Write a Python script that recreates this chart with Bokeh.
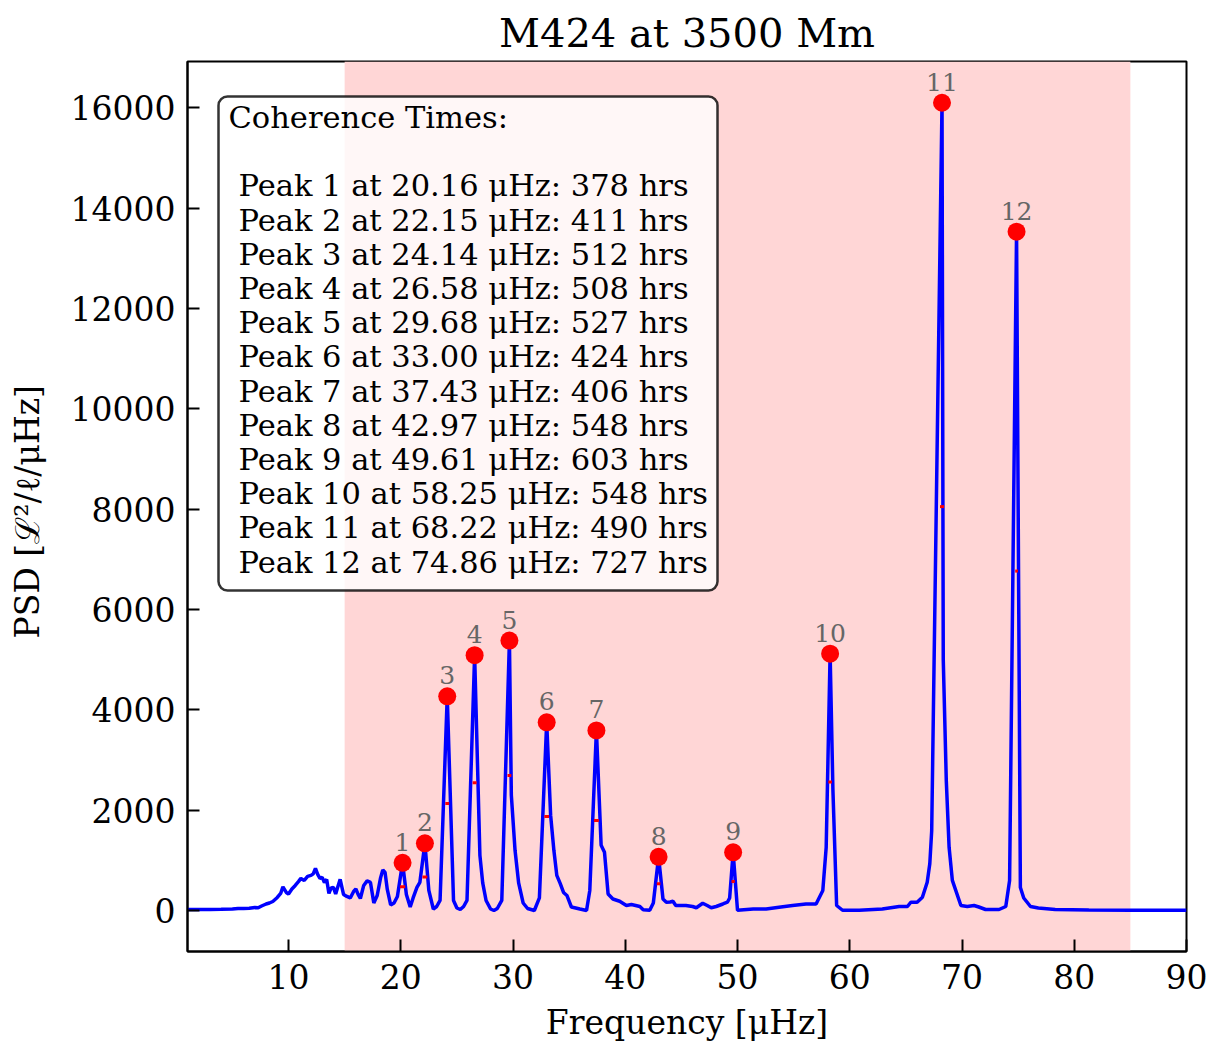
import math

from bokeh.plotting import figure
from bokeh.models import BoxAnnotation, Label, FixedTicker, Range1d, ColumnDataSource
from bokeh.core.properties import value
from bokeh.embed import file_html
from bokeh.resources import INLINE

# ---------------------------------------------------------------- data
# power spectral density of the M424 mode set at 3500 Mm
freq = [
    1.0, 2.0, 3.0, 4.0, 5.0, 5.5, 6.0, 6.5, 7.0, 7.3,
    7.6, 8.0, 8.3, 8.6, 9.0, 9.3, 9.5, 9.8, 10.0, 10.3,
    10.6, 10.9, 11.1, 11.4, 11.7, 12.0, 12.2, 12.4, 12.6, 12.8,
    13.0, 13.2, 13.4, 13.6, 13.8, 14.0, 14.2, 14.4, 14.6, 14.9,
    15.2, 15.5, 15.8, 16.0, 16.2, 16.4, 16.7, 17.0, 17.3, 17.6,
    17.9, 18.2, 18.4, 18.6, 18.8, 19.1, 19.4, 19.7, 20.16, 20.5,
    20.84, 21.1, 21.44, 21.7, 22.15, 22.5, 22.9, 23.2, 23.5, 24.14,
    24.7, 25.0, 25.3, 25.6, 25.9, 26.58, 27.05, 27.3, 27.6, 28.0,
    28.3, 28.6, 29.0, 29.68, 29.85, 30.18, 30.5, 30.9, 31.3, 31.9,
    32.35, 33.0, 33.35, 33.64, 33.9, 34.2, 34.5, 34.8, 35.2, 35.96,
    36.55, 36.84, 37.43, 37.85, 38.15, 38.47, 38.9, 39.5, 40.1, 40.55,
    41.3, 41.6, 42.18, 42.5, 42.97, 43.36, 43.66, 44.0, 44.25, 44.5,
    45.4, 46.0, 46.33, 46.9, 47.3, 47.66, 48.1, 48.7, 49.1, 49.3,
    49.61, 50.0, 51.4, 52.55, 53.7, 54.9, 56.1, 57.0, 57.6, 57.9,
    58.25, 58.5, 58.83, 59.36, 60.84, 62.9, 64.4, 65.14, 65.44, 66.0,
    66.47, 66.9, 67.13, 67.3, 68.22, 68.33, 68.6, 68.85, 69.14, 69.9,
    70.47, 71.07, 71.5, 72.1, 73.3, 73.9, 74.24, 74.86, 75.2, 75.5,
    76.1, 76.8, 78.3, 81.3, 85.0, 90.0,
]
psd = [
    20, 20, 22, 25, 30, 40, 38, 45, 60, 55,
    90, 130, 150, 180, 260, 340, 470, 360, 330, 430,
    500, 580, 640, 600, 680, 700, 730, 840, 720, 640,
    660, 560, 620, 340, 450, 460, 330, 480, 620, 320,
    280, 250, 380, 430, 320, 240, 500, 590, 560, 150,
    300, 650, 810, 760, 420, 110, 150, 280, 950, 320,
    70, 250, 460, 560, 1340, 400, 30, 80, 200, 4270,
    200, 50, 20, 80, 200, 5090, 1100, 550, 200, 30,
    0, 40, 200, 5380, 2300, 1200, 550, 150, 40, 0,
    250, 3750, 1900, 1200, 700, 540, 360, 300, 70, 30,
    0, 400, 3590, 1300, 1160, 330, 230, 185, 100, 120,
    80, 15, 5, 150, 1070, 230, 165, 170, 185, 100,
    100, 80, 55, 145, 100, 55, 80, 130, 165, 250,
    1160, 5, 30, 30, 65, 100, 130, 130, 400, 1260,
    5120, 2400, 100, 5, 5, 30, 80, 80, 165, 165,
    265, 565, 930, 1590, 16100, 5000, 2590, 1260, 600, 100,
    80, 100, 70, 20, 20, 80, 600, 13530, 460, 250,
    80, 50, 20, 10, 5, 5,
]

# identified peaks and their coherence times
peak_num = [str(i) for i in range(1, 13)]
peak_freq = [20.16, 22.15, 24.14, 26.58, 29.68, 33.00, 37.43, 42.97, 49.61, 58.25, 68.22, 74.86]
peak_psd = [950, 1340, 4270, 5090, 5380, 3750, 3590, 1070, 1160, 5120, 16100, 13530]
coh_hrs = [378, 411, 512, 508, 527, 424, 406, 548, 603, 548, 490, 727]

band = (15, 85)  # fitting window, muHz
x_ticks = [10, 20, 30, 40, 50, 60, 70, 80, 90]
y_ticks = [0, 2000, 4000, 6000, 8000, 10000, 12000, 14000, 16000]

# ---------------------------------------------------------------- layout
W, H = 1217, 1046
FL, FT, FW, FH = 187, 61, 999, 890       # frame left/top/width/height in px
X0, X1 = 1.0, 90.0
Y0, Y1 = -817.0, 16922.0

def px_x(px):
    return X0 + (px - FL) / FW * (X1 - X0)

def px_y(py):
    return Y1 - (py - FT) / FH * (Y1 - Y0)

SERIF = "DejaVu Serif"

p = figure(
    frame_width=FW, frame_height=FH,
    x_range=Range1d(X0, X1), y_range=Range1d(Y0, Y1),
    min_border_left=FL, min_border_right=W - FL - FW,
    min_border_top=FT, min_border_bottom=H - FT - FH,
    output_backend="svg", toolbar_location=None,
    title="M424 at 3500 Mm",
)
p.background_fill_color = "white"
p.border_fill_color = "white"
p.outline_line_color = "black"
p.outline_line_width = 2
p.outline_line_alpha = 1.0
p.xgrid.visible = False
p.ygrid.visible = False

p.title.text_font = SERIF
p.title.text_font_size = "40px"
p.title.text_font_style = "normal"
p.title.text_color = "black"
p.title.align = "center"
p.title.standoff = 12

p.xaxis.ticker = FixedTicker(ticks=x_ticks)
p.yaxis.ticker = FixedTicker(ticks=y_ticks)
p.xaxis.axis_label = "Frequency [μHz]"
p.yaxis.axis_label = "PSD  [ℒ²/ℓ/μHz]"
for ax in (p.xaxis[0], p.yaxis[0]):
    ax.major_label_text_font = SERIF
    ax.major_label_text_font_size = "33px"
    ax.major_label_text_color = "black"
    ax.axis_label_text_font = SERIF
    ax.axis_label_text_font_size = "33px"
    ax.axis_label_text_font_style = "normal"
    ax.axis_label_text_color = "black"
    ax.major_tick_in = 12
    ax.major_tick_out = 0
    ax.minor_tick_in = 0
    ax.minor_tick_out = 0
    ax.major_tick_line_width = 2
    ax.major_tick_line_color = "black"
    ax.axis_line_width = 2
    ax.axis_line_color = "black"
p.xaxis.major_label_standoff = 12
p.xaxis.axis_label_standoff = 11
p.yaxis.major_label_standoff = 12
p.yaxis.axis_label_standoff = 21

# shaded fitting window
p.add_layout(BoxAnnotation(left=band[0], right=band[1], fill_color="#ffd6d6",
                           fill_alpha=1.0, line_alpha=0, level="underlay"))

# spectrum
p.line(freq, psd, line_color="blue", line_width=3.5)

# half-maximum markers: width from coherence time, FWHM = 2 / (pi * tau)
half_w = [2.0 / (math.pi * t * 3600.0) * 1e6 for t in coh_hrs]
p.segment(x0=[f - w / 2 for f, w in zip(peak_freq, half_w)],
          x1=[f + w / 2 for f, w in zip(peak_freq, half_w)],
          y0=[h / 2 for h in peak_psd], y1=[h / 2 for h in peak_psd],
          line_color="red", line_width=3)

# peaks
peaks = ColumnDataSource(dict(f=peak_freq, h=peak_psd, n=peak_num))
p.scatter("f", "h", source=peaks, size=18, fill_color="red", line_color=None)
p.text("f", "h", text="n", source=peaks, y_offset=-21,
       text_align="center", text_baseline="alphabetic",
       text_font=value(SERIF), text_font_size="25px", text_color="#666666")

# coherence-time box
p.add_layout(BoxAnnotation(left=px_x(218), right=px_x(717), top=px_y(96), bottom=px_y(590),
                           fill_color="white", fill_alpha=0.8,
                           line_color="black", line_alpha=0.8, line_width=2.5,
                           border_radius=9))

BOX_FONT = "30.5px"
LINE_STEP = 34.2
BASE0 = 117.0
p.add_layout(Label(x=px_x(228), y=px_y(BASE0), text="Coherence Times:",
                   text_font=SERIF, text_font_size=BOX_FONT, text_color="black",
                   text_align="left", text_baseline="alphabetic"))
for i, (f, t) in enumerate(zip(peak_freq, coh_hrs)):
    p.add_layout(Label(x=px_x(238), y=px_y(BASE0 + (i + 2) * LINE_STEP),
                       text=f"Peak {i + 1} at {f:.2f} μHz: {t} hrs",
                       text_font=SERIF, text_font_size=BOX_FONT, text_color="black",
                       text_align="left", text_baseline="alphabetic"))

open("out.html", "w").write(file_html(p, INLINE))
